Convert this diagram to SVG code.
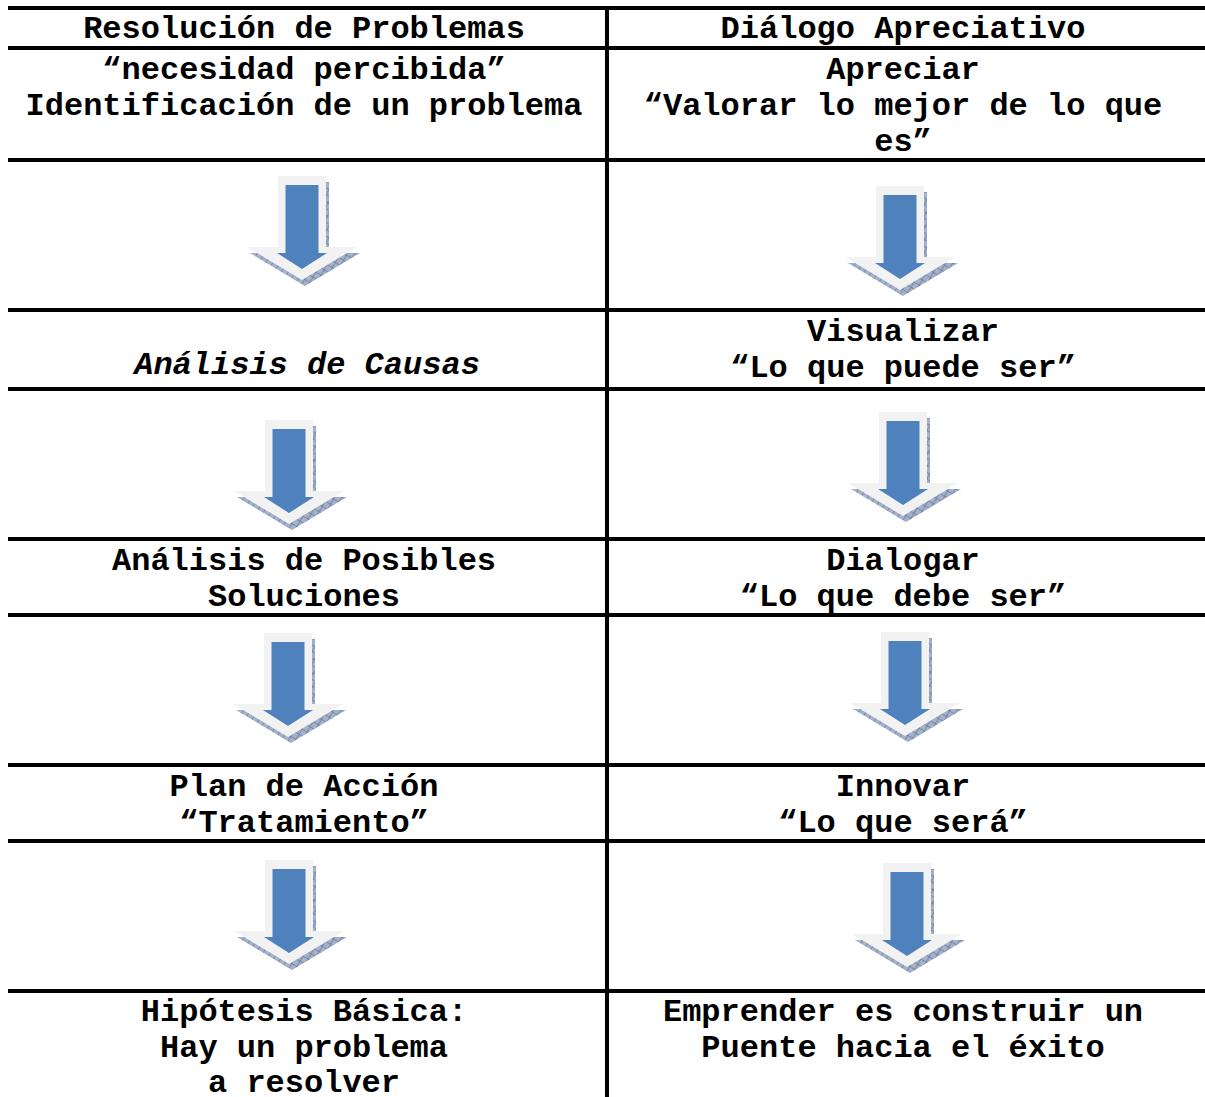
<svg xmlns="http://www.w3.org/2000/svg" width="1205" height="1097" viewBox="0 0 1205 1097">
<style>
.t{font-family:"Liberation Mono","Courier New",monospace;font-weight:bold;font-size:32px;fill:#000;text-anchor:middle}
.i{font-style:italic}
.g{stroke:#000;stroke-width:4;fill:none}
</style>
<defs>
<pattern id="hatch" width="6" height="6" patternUnits="userSpaceOnUse" patternTransform="rotate(30)">
<rect width="6" height="6" fill="#a3b2ca"/>
<path d="M0,0H6M0,0V6" stroke="#4a5e80" stroke-width="0.9"/>
</pattern>
<g id="arrow">
<path d="M-24,0H24V71H55L0,104L-55,71H-24Z" transform="translate(3,6)" fill="url(#hatch)"/>
<path d="M-24,0H24V71H55L0,104L-55,71H-24Z" fill="#f2f2f2"/>
<path d="M-16.5,9H16.5V77H25L0,93L-25,77H-16.5Z" fill="#4f81bd"/>
</g>
</defs>
<rect width="1205" height="1097" fill="#fff"/>
<g id="grid" class="g">
<path d="M8,8H1205M8,48H1205M8,160H1205M8,310H1205M8,389H1205M8,539H1205M8,615H1205M8,765H1205M8,841H1205M8,991H1205"/>
<path d="M607,6V1097"/>
</g>
<g id="connectors">
<use href="#arrow" transform="translate(302,176)"/>
<use href="#arrow" transform="translate(900,186)"/>
<use href="#arrow" transform="translate(289,420)"/>
<use href="#arrow" transform="translate(903,412)"/>
<use href="#arrow" transform="translate(288,633)"/>
<use href="#arrow" transform="translate(905,632)"/>
<use href="#arrow" transform="translate(289,860)"/>
<use href="#arrow" transform="translate(907,863)"/>
</g>
<g id="header-left"><text class="t" x="304" y="38">Resolución de Problemas</text></g>
<g id="header-right"><text class="t" x="903" y="38">Diálogo Apreciativo</text></g>
<g id="node-l1"><text class="t" x="304" y="79">“necesidad percibida”</text><text class="t" x="304" y="115">Identificación de un problema</text></g>
<g id="node-r1"><text class="t" x="903" y="79">Apreciar</text><text class="t" x="903" y="115">“Valorar lo mejor de lo que</text><text class="t" x="903" y="151">es”</text></g>
<g id="node-l2"><text class="t i" x="307" y="374">Análisis de Causas</text></g>
<g id="node-r2"><text class="t" x="903" y="341">Visualizar</text><text class="t" x="903" y="377">“Lo que puede ser”</text></g>
<g id="node-l3"><text class="t" x="304" y="570">Análisis de Posibles</text><text class="t" x="304" y="606">Soluciones</text></g>
<g id="node-r3"><text class="t" x="903" y="570">Dialogar</text><text class="t" x="903" y="606">“Lo que debe ser”</text></g>
<g id="node-l4"><text class="t" x="304" y="796">Plan de Acción</text><text class="t" x="304" y="832">“Tratamiento”</text></g>
<g id="node-r4"><text class="t" x="903" y="796">Innovar</text><text class="t" x="903" y="832">“Lo que será”</text></g>
<g id="node-l5"><text class="t" x="304" y="1021">Hipótesis Básica:</text><text class="t" x="304" y="1057">Hay un problema</text><text class="t" x="304" y="1092">a resolver</text></g>
<g id="node-r5"><text class="t" x="903" y="1021">Emprender es construir un</text><text class="t" x="903" y="1057">Puente hacia el éxito</text></g>
</svg>
